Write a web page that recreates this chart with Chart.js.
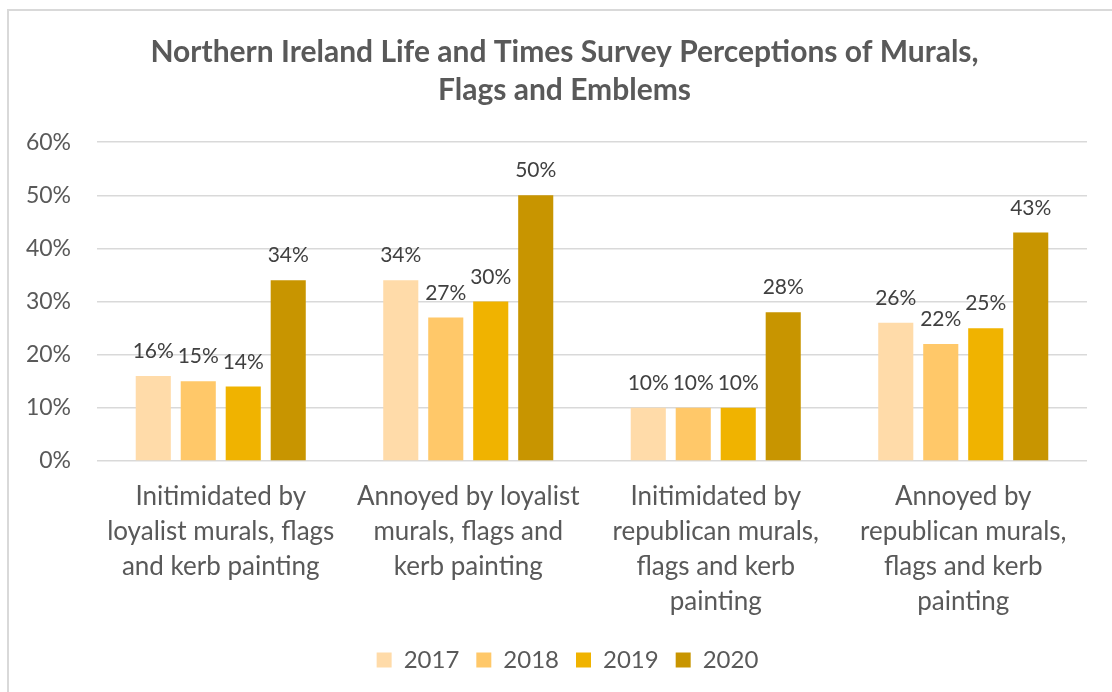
<!DOCTYPE html>
<html>
<head>
<meta charset="utf-8">
<script src="https://cdn.jsdelivr.net/npm/chart.js@4"></script>
<style>
  html, body { margin: 0; padding: 0; background: #ffffff; }
  #frame { position: absolute; left: 7px; top: 9px; width: 1300px; height: 900px;
           border-left: 2px solid #d9d9d9; border-top: 2px solid #d9d9d9; }
  #wrap { position: absolute; left: 0; top: 0; width: 1112px; height: 692px; }
</style>
</head>
<body>
<div id="frame"></div>
<div id="wrap"><canvas id="c" width="1112" height="692"></canvas></div>
<script>
const titleLines = ["Northern Ireland Life and Times Survey Perceptions of Murals,", "Flags and Emblems"];
const categories = [
  ["Initimidated by", "loyalist murals, flags", "and kerb painting"],
  ["Annoyed by loyalist", "murals, flags and", "kerb painting"],
  ["Initimidated by", "republican murals,", "flags and kerb", "painting"],
  ["Annoyed by", "republican murals,", "flags and kerb", "painting"]
];
const seriesNames = ["2017", "2018", "2019", "2020"];
const values2017 = [16, 34, 10, 26];
const values2018 = [15, 27, 10, 22];
const values2019 = [14, 30, 10, 25];
const values2020 = [34, 50, 28, 43];
const yTicks = [0, 10, 20, 30, 40, 50, 60];
const colors = ["#FFDBA9", "#FFC869", "#F0B300", "#C89500"];

const FONT = "Lato, 'Open Sans', sans-serif";

const labelPlugin = {
  id: 'valueLabels',
  afterLayout(chart) {
    // the original centres the title and legend on the whole chart frame
    const shift = 21;
    if (chart.titleBlock) { chart.titleBlock.left += shift; chart.titleBlock.right += shift; }
    if (chart.legend) { chart.legend.left += 24; chart.legend.right += 24; }
  },
  afterDatasetsDraw(chart) {
    const ctx = chart.ctx;
    ctx.save();
    ctx.font = "21px " + FONT;
    ctx.fillStyle = "#404040";
    ctx.textAlign = "center";
    ctx.textBaseline = "alphabetic";
    chart.data.datasets.forEach((ds, i) => {
      const meta = chart.getDatasetMeta(i);
      meta.data.forEach((bar, j) => {
        ctx.fillText(ds.data[j] + "%", bar.x, bar.y - 18);
      });
    });
    ctx.restore();
  }
};

const allSeries = [values2017, values2018, values2019, values2020];

new Chart(document.getElementById('c'), {
  type: 'bar',
  data: {
    labels: categories,
    datasets: allSeries.map((vals, i) => ({
      label: seriesNames[i],
      data: vals,
      backgroundColor: colors[i],
      borderWidth: 0,
      categoryPercentage: 0.727,
      barPercentage: 0.78
    }))
  },
  options: {
    responsive: false,
    animation: false,
    devicePixelRatio: 1,
    layout: { padding: { top: 0, left: 0, right: 25, bottom: 10 } },
    plugins: {
      title: {
        display: true,
        text: titleLines,
        color: "#595959",
        font: { family: FONT, size: 30, weight: 'bold', lineHeight: 1.27 },
        padding: { top: 33, bottom: 33 }
      },
      legend: {
        position: 'bottom',
        labels: {
          color: "#595959",
          font: { family: FONT, size: 24 },
          boxWidth: 15, boxHeight: 15,
          padding: 17
        }
      },
      tooltip: { enabled: false }
    },
    scales: {
      x: {
        grid: { display: false, drawTicks: false },
        border: { display: false },
        afterFit(scale) { scale.height = 170; },
        ticks: {
          color: "#595959",
          font: { family: FONT, size: 26, lineHeight: 1.35 },
          maxRotation: 0, minRotation: 0, autoSkip: false,
          padding: 18
        }
      },
      y: {
        min: 0, max: 60,
        afterBuildTicks(scale) { scale.ticks = yTicks.map(v => ({ value: v })); },
        afterFit(scale) { scale.width = 97; },
        grid: { color: "#d9d9d9", lineWidth: 1.5, drawTicks: false },
        border: { display: false },
        ticks: {
          color: "#595959",
          font: { family: FONT, size: 23 },
          padding: 26,
          callback: v => v + "%"
        }
      }
    }
  },
  plugins: [labelPlugin]
});
</script>
</body>
</html>
